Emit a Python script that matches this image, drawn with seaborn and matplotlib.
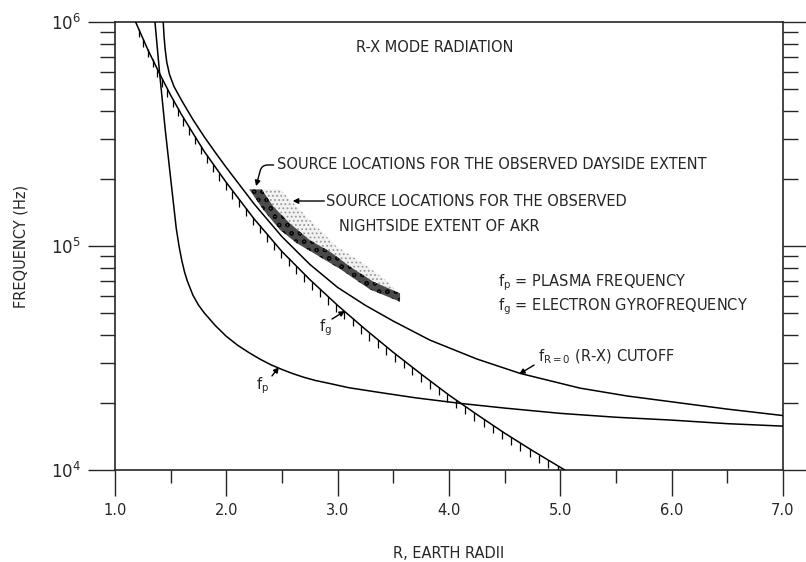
import numpy as np
import matplotlib
matplotlib.use("Agg")
import matplotlib.pyplot as plt
from matplotlib.ticker import FixedLocator, LogLocator, NullFormatter, FuncFormatter
from matplotlib.collections import LineCollection
import seaborn as sns

# ---- curves (R in Earth radii, frequency in Hz) ----
# electron gyrofrequency f_g (hatched boundary)
fg_r = [1.185, 1.3, 1.4, 1.5, 1.6, 1.8, 2.0, 2.25, 2.5, 2.75, 3.0, 3.25, 3.5,
        3.75, 4.0, 4.25, 4.5, 4.75, 5.04]
fg_hz = [1.0e6, 7.43e5, 5.89e5, 4.71e5, 3.84e5, 2.65e5, 1.92e5, 1.32e5, 9.44e4, 7.08e4,
         5.43e4, 4.24e4, 3.35e4, 2.68e4, 2.16e4, 1.77e4, 1.46e4, 1.22e4, 1.00e4]

# R-X mode cutoff f_R=0
fr_r = [1.433, 1.44, 1.45, 1.465, 1.49, 1.53, 1.6, 1.7, 1.8, 1.9, 2.0, 2.25, 2.5,
        2.75, 3.0, 3.25, 3.5, 3.829, 4.25, 4.638, 5.177, 5.6, 5.985, 6.5, 7.0]
fr_hz = [1.0e6, 8.71e5, 7.59e5, 6.61e5, 5.82e5, 5.15e5, 4.45e5, 3.67e5, 3.08e5, 2.62e5,
         2.24e5, 1.54e5, 1.10e5, 8.28e4, 6.53e4, 5.43e4, 4.62e4, 3.80e4, 3.13e4, 2.70e4,
         2.32e4, 2.14e4, 2.02e4, 1.87e4, 1.75e4]

# plasma frequency f_p
fp_r = [1.359, 1.40, 1.45, 1.50, 1.55, 1.575, 1.60, 1.625, 1.65, 1.70, 1.75, 1.80, 1.90,
        2.0, 2.1, 2.2, 2.3, 2.4, 2.5, 2.6, 2.7, 2.8, 2.95, 3.1, 3.4, 3.7, 4.114, 4.5,
        5.0, 5.5, 6.0, 6.5, 7.0]
fp_hz = [1.0e6, 5.96e5, 3.35e5, 2.00e5, 1.20e5, 1.00e5, 8.61e4, 7.64e4, 6.97e4, 6.03e4,
         5.45e4, 5.04e4, 4.42e4, 3.95e4, 3.61e4, 3.35e4, 3.13e4, 2.95e4, 2.81e4, 2.69e4,
         2.59e4, 2.51e4, 2.42e4, 2.33e4, 2.21e4, 2.10e4, 1.98e4, 1.89e4, 1.79e4, 1.72e4,
         1.67e4, 1.61e4, 1.57e4]

# dayside source region (dark band): lower and upper edges
day_lo_r = [2.206, 2.332, 2.482, 2.632, 2.812, 3.021, 3.290, 3.560]
day_lo_hz = [1.79e5, 1.45e5, 1.18e5, 1.03e5, 9.12e4, 7.90e4, 6.40e4, 5.64e4]
day_hi_r = [2.318, 2.422, 2.572, 2.752, 2.931, 3.111, 3.320, 3.560]
day_hi_hz = [1.79e5, 1.50e5, 1.26e5, 1.06e5, 9.44e4, 8.09e4, 6.93e4, 6.15e4]

# nightside source region (stippled): outer edge
night_r = [2.377, 2.482, 2.632, 2.812, 2.991, 3.230, 3.470, 3.578]
night_hz = [1.79e5, 1.79e5, 1.50e5, 1.22e5, 9.93e4, 8.38e4, 6.81e4, 5.74e4]

x_ticks = [1.0, 2.0, 3.0, 4.0, 5.0, 6.0, 7.0]
x_tick_labels = ["1.0", "2.0", "3.0", "4.0", "5.0", "6.0", "7.0"]
y_ticks = [1e4, 1e5, 1e6]

# ---- style ----
sns.set_style("ticks")
plt.rcParams["font.family"] = ["DejaVu Sans"]
plt.rcParams["mathtext.fontset"] = "dejavusans"
plt.rcParams["hatch.linewidth"] = 0.8
FS = 10.5

W, H = 806, 562
fig = plt.figure(figsize=(W / 100, H / 100), dpi=100)
L, R_, T, B = 115, 783, 22, 470
ax = fig.add_axes([L / W, 1 - B / H, (R_ - L) / W, (B - T) / H])
ax.set_yscale("log")
ax.set_xlim(1.0, 7.0)
ax.set_ylim(1e4, 1e6)

# source regions
ax.fill(night_r + day_hi_r[::-1], night_hz + day_hi_hz[::-1],
        facecolor="#f2f2f2", edgecolor="#9a9a9a", hatch="....", linewidth=0, zorder=2)
ax.fill(day_lo_r + day_hi_r[::-1], day_lo_hz + day_hi_hz[::-1],
        facecolor="#4a4a4a", edgecolor="#0a0a0a", hatch="oo", linewidth=0, zorder=3)

# boundary curves
for xs, ys in [(fg_r, fg_hz), (fr_r, fr_hz), (fp_r, fp_hz)]:
    sns.lineplot(x=xs, y=ys, ax=ax, color="black", linewidth=1.1, sort=False,
                 estimator=None, zorder=4)

# short vertical hatch strokes hanging below the f_g curve
pts = ax.transData.transform(np.column_stack([fg_r, fg_hz]))
arc = np.concatenate([[0], np.cumsum(np.hypot(*np.diff(pts, axis=0).T))])
px = fig.dpi / 100.0
stations = np.arange(8 * px, arc[-1] - 2 * px, 11 * px)
hx = np.interp(stations, arc, pts[:, 0])
hy = np.interp(stations, arc, pts[:, 1])
inv = ax.transData.inverted()
top = inv.transform(np.column_stack([hx, hy]))
bot = inv.transform(np.column_stack([hx, hy - 8 * px]))
ax.add_collection(LineCollection(np.stack([top, bot], axis=1), colors="black",
                                 linewidths=0.9, zorder=4))

# ---- axes, ticks ----
ax.xaxis.set_major_locator(FixedLocator(x_ticks))
ax.set_xticklabels(x_tick_labels)
ax.xaxis.set_minor_locator(FixedLocator(np.arange(1.5, 7.0, 1.0)))
ax.yaxis.set_major_locator(FixedLocator(y_ticks))
ax.yaxis.set_minor_locator(LogLocator(base=10, subs=np.arange(2, 10)))
ax.yaxis.set_minor_formatter(NullFormatter())
ax.yaxis.set_major_formatter(FuncFormatter(lambda v, p: r"$10^{%d}$" % round(np.log10(v))))

ax.tick_params(axis="x", which="major", direction="out", length=19, width=1.0,
               labelsize=FS, pad=5, top=False)
ax.tick_params(axis="x", which="minor", direction="out", length=9.5, width=1.0, top=False)
ax.tick_params(axis="y", which="major", direction="out", length=19.5, width=1.0,
               left=True, right=True, labelleft=True, labelright=False, labelsize=FS + 1.5, pad=5)
ax.tick_params(axis="y", which="minor", direction="out", length=10.5, width=1.0,
               left=True, right=True)
for s in ax.spines.values():
    s.set_visible(True)
    s.set_linewidth(1.2)

ax.set_xlabel("R, EARTH RADII", fontsize=FS, labelpad=20)
ax.set_ylabel("FREQUENCY (Hz)", fontsize=FS, labelpad=16)

# ---- annotations ----
arrow = dict(arrowstyle="-|>", color="black", lw=1.0, mutation_scale=8,
             shrinkA=0, shrinkB=0)

ax.text(3.874, 7.73e5, "R-X MODE RADIATION", ha="center", va="center", fontsize=FS)

ax.text(2.455, 2.30e5, "SOURCE LOCATIONS FOR THE OBSERVED DAYSIDE EXTENT",
        ha="left", va="center", fontsize=FS)
ax.annotate("", xy=(2.267, 1.85e5), xytext=(2.425, 2.30e5),
            arrowprops=dict(arrow, connectionstyle="angle,angleA=0,angleB=75,rad=6"))

ax.text(2.895, 1.588e5, "SOURCE LOCATIONS FOR THE OBSERVED",
        ha="left", va="center", fontsize=FS)
ax.text(3.012, 1.227e5, "NIGHTSIDE EXTENT OF AKR", ha="left", va="center", fontsize=FS)
ax.annotate("", xy=(2.596, 1.588e5), xytext=(2.88, 1.588e5), arrowprops=arrow)

ax.text(4.44, 6.84e4, r"f$_\mathrm{p}$ = PLASMA FREQUENCY", ha="left", va="center", fontsize=FS)
ax.text(4.44, 5.35e4, r"f$_\mathrm{g}$ = ELECTRON GYROFREQUENCY", ha="left", va="center",
        fontsize=FS)

ax.text(2.886, 4.34e4, r"f$_\mathrm{g}$", ha="center", va="center", fontsize=FS)
ax.annotate("", xy=(3.066, 5.13e4), xytext=(2.949, 4.72e4), arrowprops=arrow)

ax.text(2.329, 2.39e4, r"f$_\mathrm{p}$", ha="center", va="center", fontsize=FS)
ax.annotate("", xy=(2.473, 2.88e4), xytext=(2.41, 2.63e4), arrowprops=arrow)

ax.text(4.80, 3.19e4, r"f$_\mathrm{R=0}$ (R-X) CUTOFF", ha="left", va="center", fontsize=FS)
ax.annotate("", xy=(4.63, 2.68e4), xytext=(4.764, 2.94e4), arrowprops=arrow)

fig.savefig("out.png", dpi=100)
